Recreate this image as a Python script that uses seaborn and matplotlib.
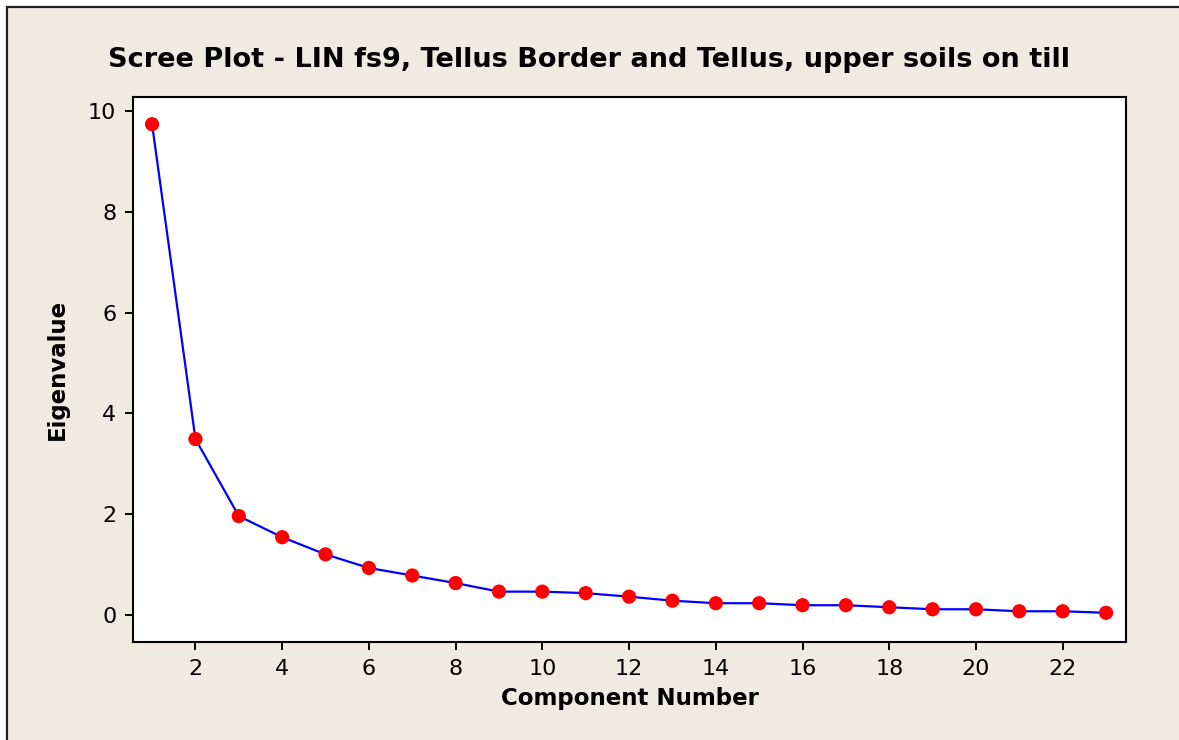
import matplotlib
matplotlib.use("Agg")
import matplotlib.pyplot as plt
from matplotlib.patches import Rectangle
import seaborn as sns
import pandas as pd

# Eigenvalues of the principal components
components = list(range(1, 24))
eigenvalues = [9.74, 3.49, 1.96, 1.54, 1.20, 0.93, 0.78, 0.63, 0.46, 0.46,
               0.43, 0.36, 0.28, 0.23, 0.23, 0.19, 0.19, 0.15, 0.11, 0.11,
               0.07, 0.07, 0.04]
x_ticks = [2, 4, 6, 8, 10, 12, 14, 16, 18, 20, 22]
y_ticks = [0, 2, 4, 6, 8, 10]

title = "Scree Plot - LIN fs9, Tellus Border and Tellus, upper soils on till"
x_label = "Component Number"
y_label = "Eigenvalue"

df = pd.DataFrame({"component": components, "eigenvalue": eigenvalues})

sns.set_theme(style="ticks")
plt.rcParams["font.family"] = ["DejaVu Sans"]
plt.rcParams["text.color"] = "black"
plt.rcParams["axes.labelcolor"] = "black"

W, H = 1179, 740
fig = plt.figure(figsize=(W / 100, H / 100), dpi=100)
fig.patch.set_facecolor("white")

# beige panel with a dark frame on the top and left edges
bg = Rectangle((7 / W, -0.05), 1.1, 0.05 + 733 / H, transform=fig.transFigure,
               facecolor="#EFEBE1", edgecolor="#202020", linewidth=1.6,
               zorder=-10)
fig.patches.append(bg)

ax = fig.add_axes([133 / W, 1 - 642 / H, (1126 - 133) / W, (642 - 97) / H])
ax.set_facecolor("white")

sns.lineplot(data=df, x="component", y="eigenvalue", ax=ax, color="#0000FF",
             linewidth=1.6, zorder=2)
sns.scatterplot(data=df, x="component", y="eigenvalue", ax=ax, color="#FF0000",
                s=105, edgecolor="none", zorder=3)

ax.set_xlim(0.56, 23.46)
ax.set_ylim(-0.54, 10.28)
ax.set_xticks(x_ticks)
ax.set_yticks(y_ticks)
ax.tick_params(axis="both", direction="out", length=6, width=1.4,
               labelsize=16, colors="black", pad=6)
for sp in ax.spines.values():
    sp.set_linewidth(1.5)
    sp.set_color("black")

ax.set_xlabel(x_label, fontsize=16.5, fontweight="bold", labelpad=6,
              color="black")
ax.set_ylabel(y_label, fontsize=16.5, fontweight="bold", labelpad=14,
              color="black")
fig.text(0.5, 1 - 60 / H, title, ha="center", va="center",
         fontsize=19.5, fontweight="bold", color="black")

fig.savefig("out.png", dpi=100, facecolor=fig.get_facecolor())
